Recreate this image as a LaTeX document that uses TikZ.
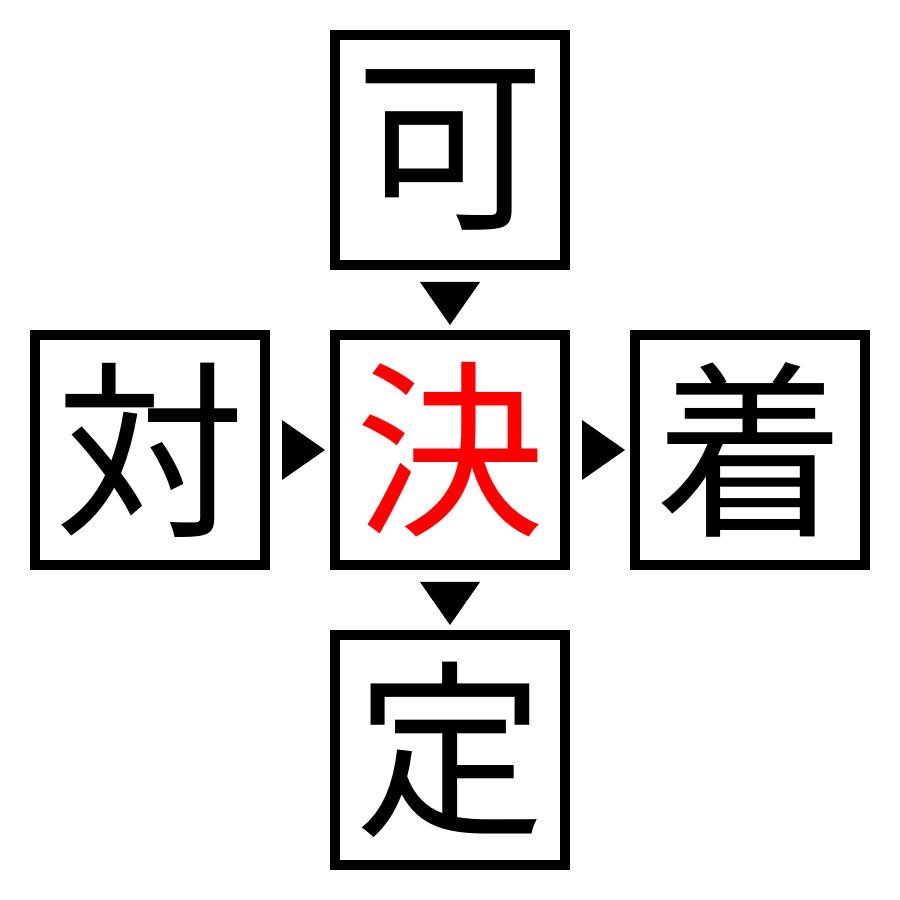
\documentclass[tikz,border=0pt]{standalone}
\usepackage{fontspec}
\newfontfamily\cjk{Noto Sans CJK JP}
\usetikzlibrary{positioning,calc}

\begin{document}
\begin{tikzpicture}[node distance=3cm,on grid,
every node/.style={font=\cjk\fontsize{54}{54}\selectfont},
kanji/.style={draw,line width=0.1cm,minimum size=2.3cm,inner sep=0pt}]
\useasboundingbox (0,0) rectangle (9,9);
\node[kanji,text=red] (mid) at (4.5,4.5) {決};
\node[kanji] (up) [above=of mid] {可};
\node[kanji] (left) [left=of mid] {対};
\node[kanji] (right) [right=of mid] {着};
\node[kanji] (down) [below=of mid] {定};
% arrows pointing down
\foreach \a/\b in {up/mid,mid/down}
  \fill ($(\a.south)+(-0.3,-0.12)$) -- ++(0.6,0) -- ($(\b.north)+(0,0.05)$) -- cycle;
% arrows pointing right
\foreach \a/\b in {left/mid,mid/right}
  \fill ($(\a.east)+(0.12,-0.3)$) -- ++(0,0.6) -- ($(\b.west)+(-0.05,0)$) -- cycle;
\end{tikzpicture}
\end{document}
